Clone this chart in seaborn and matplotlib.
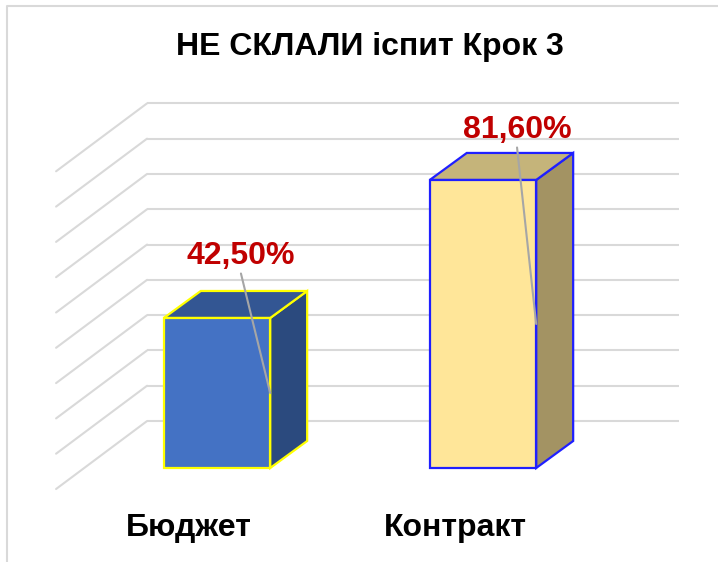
import numpy as np
import matplotlib
matplotlib.use("Agg")
import matplotlib.pyplot as plt
from matplotlib.patches import Polygon
from matplotlib.lines import Line2D
import seaborn as sns

# data
categories = ["Бюджет", "Контракт"]
values = [42.5, 81.6]
value_labels = ["42,50%", "81,60%"]
grid_ticks = [0, 10, 20, 30, 40, 50, 60, 70, 80, 90]
title = "НЕ СКЛАЛИ іспит Крок 3"

# styles
front_colors = ["#4472C4", "#FFE699"]
top_colors = ["#335693", "#C5B47A"]
side_colors = ["#2B4A7E", "#A39363"]
edge_colors = ["#FFFF00", "#1F1FFF"]
grid_color = "#D9D9D9"

# pseudo-3D layout (in data units)
bar_dx, bar_dy = 0.139, 7.65      # bar depth
wall_dx, wall_dy = 0.237, 13.3    # back wall offset from bar front plane
floor_dx, floor_dy = -0.105, -5.95  # floor front edge offset
label_shift = [(0.09, 17.6), (0.128, 14.2)]

sns.set_style("white")
plt.rcParams["font.family"] = ["Liberation Sans", "DejaVu Sans"]

fig = plt.figure(figsize=(7.18, 5.62), dpi=100)
ax = fig.add_axes([0, 0, 1, 1])

sns.barplot(x=categories, y=values, hue=categories, palette=front_colors,
            width=0.4, legend=False, saturation=1, ax=ax, zorder=5)

# gridlines: back wall + side wall diagonals
for g in grid_ticks:
    ax.plot([-0.5 + wall_dx, 1.5 + wall_dx], [g + wall_dy, g + wall_dy],
            color=grid_color, lw=1.5, zorder=1, solid_capstyle="butt")
    ax.plot([-0.5 + floor_dx, -0.5 + wall_dx], [g + floor_dy, g + wall_dy],
            color=grid_color, lw=1.5, zorder=1)

for i, p in enumerate(ax.patches):
    x0, w, h = p.get_x(), p.get_width(), p.get_height()
    x1 = x0 + w
    p.set_edgecolor(edge_colors[i])
    p.set_linewidth(1.6)
    side = Polygon([(x1, 0), (x1 + bar_dx, bar_dy), (x1 + bar_dx, h + bar_dy), (x1, h)],
                   closed=True, facecolor=side_colors[i], edgecolor=edge_colors[i],
                   lw=1.6, zorder=3)
    top = Polygon([(x0, h), (x0 + bar_dx, h + bar_dy), (x1 + bar_dx, h + bar_dy), (x1, h)],
                  closed=True, facecolor=top_colors[i], edgecolor=edge_colors[i],
                  lw=1.6, zorder=3)
    ax.add_patch(side)
    ax.add_patch(top)

    # value label with leader line
    lx, ly = p.get_x() + w / 2 + label_shift[i][0], h + label_shift[i][1]
    ax.plot([lx, x1], [ly - 5, h / 2], color="#A6A6A6", lw=1.5, zorder=6)
    ax.text(lx, ly, value_labels[i], ha="center", va="center", color="#C00000",
            fontsize=23, fontweight="bold", zorder=7)

    # category label on floor front edge
    ax.text(i + floor_dx, -17, categories[i], ha="center", va="center",
            color="black", fontsize=23, fontweight="bold")

ax.set_xlim(-0.8158, 1.8835)
ax.set_ylim(-26.63, 132.58)
ax.axis("off")

fig.text(370 / 718, 1 - 47 / 562, title, ha="center", va="center",
         fontsize=23, fontweight="bold", color="black")

# chart frame
fig.add_artist(Line2D([7 / 718, 7 / 718, 1], [0, 1 - 6 / 562, 1 - 6 / 562],
                      color="#D9D9D9", lw=1.5, transform=fig.transFigure))

fig.savefig("out.png", dpi=100)
